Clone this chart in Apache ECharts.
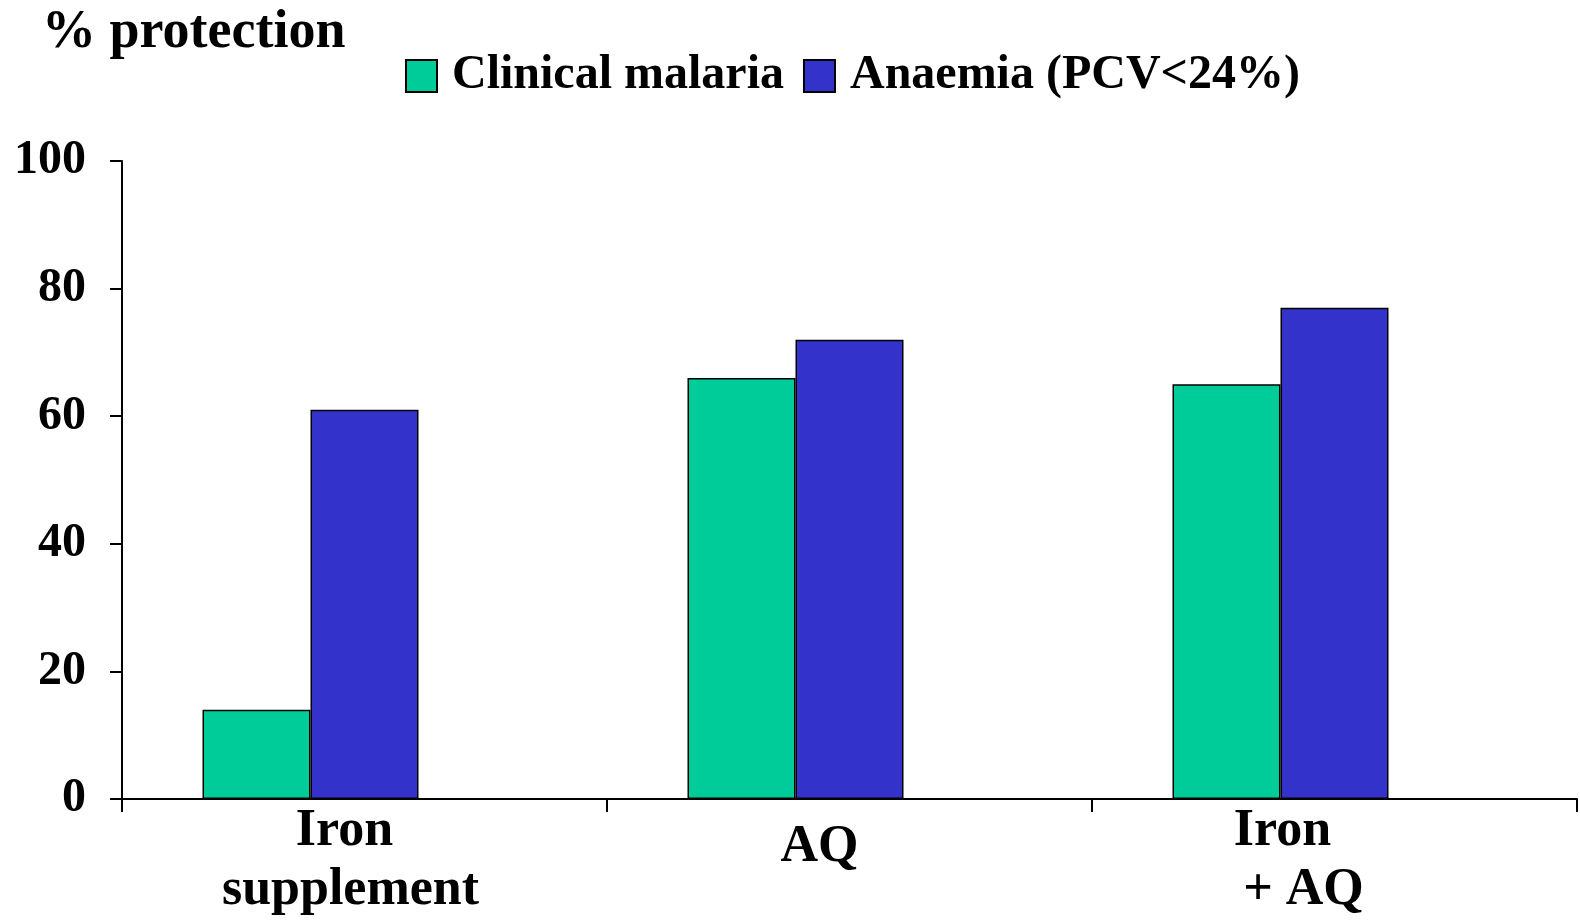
<!DOCTYPE html>
<html>
<head>
<meta charset="utf-8">
<script src="https://cdn.jsdelivr.net/npm/echarts@6/dist/echarts.min.js"></script>
<style>html,body{margin:0;padding:0;background:#fff;}#c{width:1580px;height:924px;}</style>
</head>
<body>
<div id="c"></div>
<script>
var categories = ['Iron\nsupplement', 'AQ', 'Iron\n+ AQ'];
var seriesNames = ['Clinical malaria', 'Anaemia (PCV<24%)'];
var clinicalMalaria = [14, 66, 65];
var anaemia = [61, 72, 77];
var yTicks = [0, 20, 40, 60, 80, 100];

var FONT = '"Liberation Serif", "Times New Roman", serif';
var chart = echarts.init(document.getElementById('c'));
chart.setOption({
  animation: false,
  backgroundColor: '#fff',
  title: {
    text: '% protection',
    left: 37, top: 1,
    textStyle: { fontFamily: FONT, fontWeight: 'bold', fontSize: 54, color: '#000' }
  },
  legend: {
    data: seriesNames,
    left: 400, top: 47,
    itemWidth: 31, itemHeight: 32, itemGap: 19,
    icon: 'rect',
    textStyle: { fontFamily: FONT, fontWeight: 'bold', fontSize: 48, color: '#000', padding: [0, 0, 0, 10] }
  },
  grid: { left: 122, right: 3, top: 161, bottom: 125, containLabel: false },
  xAxis: {
    type: 'category',
    data: categories,
    axisLine: { lineStyle: { color: '#000', width: 2 } },
    axisTick: { show: true, length: 13, lineStyle: { color: '#000', width: 2 } },
    axisLabel: {
      margin: 3,
      fontFamily: FONT, fontWeight: 'bold', fontSize: 52, color: '#000',
      formatter: function (v, i) {
        if (i === 0) return '{a|Iron}\n{b|supplement}';
        if (i === 1) return '{c|AQ}';
        return '{d|Iron}\n{e|+ AQ}';
      },
      rich: {
        a: { fontFamily: FONT, fontWeight: 'bold', fontSize: 52, lineHeight: 59, color: '#000', padding: [0, 40, 0, 0] },
        b: { fontFamily: FONT, fontWeight: 'bold', fontSize: 52, lineHeight: 59, color: '#000', padding: [0, 28, 0, 0] },
        c: { fontFamily: FONT, fontWeight: 'bold', fontSize: 52, lineHeight: 92, color: '#000', padding: [0, 60, 0, 0] },
        d: { fontFamily: FONT, fontWeight: 'bold', fontSize: 52, lineHeight: 59, color: '#000', padding: [0, 104, 0, 0] },
        e: { fontFamily: FONT, fontWeight: 'bold', fontSize: 52, lineHeight: 59, color: '#000', padding: [0, 62, 0, 0] }
      }
    }
  },
  yAxis: {
    type: 'value',
    min: 0, max: 100, interval: 20,
    splitLine: { show: false },
    axisLine: { show: true, lineStyle: { color: '#000', width: 2 } },
    axisTick: { show: true, length: 12, lineStyle: { color: '#000', width: 2 } },
    axisLabel: {
      margin: 36,
      fontFamily: FONT, fontWeight: 'bold', fontSize: 48, color: '#000',
      formatter: function (v) { return yTicks.indexOf(v) >= 0 ? String(v) : ''; }
    }
  },
  series: [
    {
      name: seriesNames[0], type: 'bar', data: clinicalMalaria,
      barWidth: 108, barGap: '0%',
      itemStyle: { color: '#00CC99', borderColor: '#000', borderWidth: 1.5 }
    },
    {
      name: seriesNames[1], type: 'bar', data: anaemia,
      barWidth: 108, barGap: '0%',
      itemStyle: { color: '#3333CC', borderColor: '#000', borderWidth: 1.5 }
    },
    {
      name: 'spacer', type: 'bar', data: ['-', '-', '-'],
      barWidth: 108, barGap: '0%', silent: true,
      itemStyle: { color: 'rgba(0,0,0,0)' }
    }
  ]
});
</script>
</body>
</html>
